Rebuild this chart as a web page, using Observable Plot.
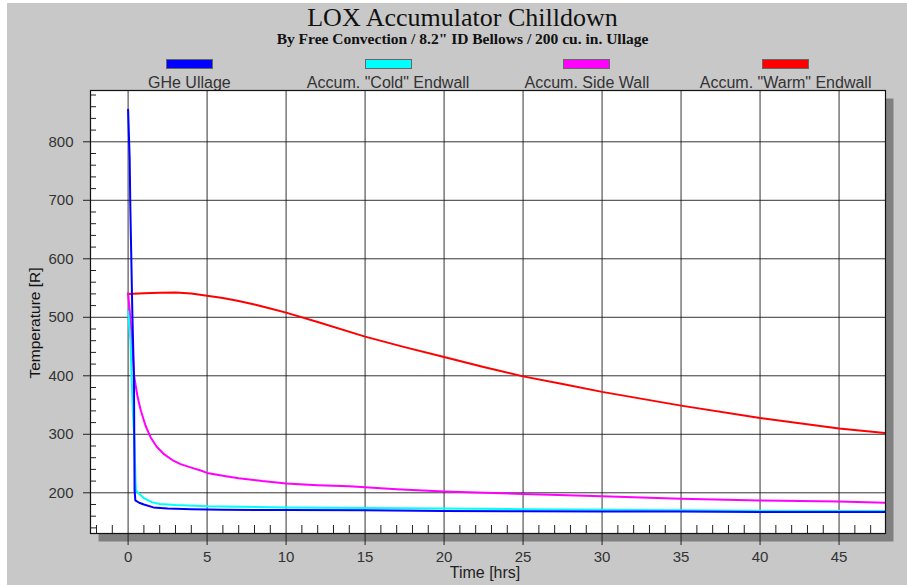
<!DOCTYPE html>
<html>
<head>
<meta charset="utf-8">
<script src="https://cdn.jsdelivr.net/npm/d3@7"></script>
<script src="https://cdn.jsdelivr.net/npm/@observablehq/plot@0.6"></script>
<style>
  body { margin: 0; background: #fff; }
  #wrap { position: relative; width: 907px; height: 585px; overflow: hidden; background: #fff; }
  #panel { position: absolute; left: 7px; top: 3px; width: 900px; height: 582px; background: #c8c8c8; }
  #title { position: absolute; left: 0; width: 925px; top: 3px; text-align: center;
           font-family: "Liberation Serif", "Times New Roman", serif; font-size: 26px; color: #111; }
  #subtitle { position: absolute; left: 0; width: 925px; top: 30px; text-align: center;
           font-family: "Liberation Serif", "Times New Roman", serif; font-size: 15.5px; font-weight: bold; color: #111; }
  #legend { position: absolute; left: 90px; top: 59px; width: 795px; display: flex; }
  .item { flex: 1; text-align: center; font-family: "Liberation Sans", Arial, sans-serif; font-size: 16px; color: #333; }
  .sw { width: 45px; height: 8px; margin: 0 auto; border: 1px solid #666; }
  .lab { margin-top: 5px; line-height: 18px; }
  #chart { position: absolute; left: 0; top: 0; }
  #ylab { position: absolute; left: 35px; top: 323px; transform: translate(-50%, -50%) rotate(-90deg);
          white-space: nowrap; font-family: "Liberation Sans", Arial, sans-serif; font-size: 15.5px; color: #111; }
</style>
</head>
<body>
<div id="wrap">
  <div id="panel"></div>
  <div id="title"></div>
  <div id="subtitle"></div>
  <div id="legend"></div>
  <div id="chart"></div>
  <div id="ylab"></div>
</div>
<script>
// ---- Text ----
const titleText = "LOX Accumulator Chilldown";
const subtitleText = "By Free Convection / 8.2\" ID Bellows / 200 cu. in. Ullage";
const xLabel = "Time [hrs]";
const yLabel = "Temperature [R]";

// ---- Series names & colours ----
const seriesNames = ["GHe Ullage", "Accum. \"Cold\" Endwall", "Accum. Side Wall", "Accum. \"Warm\" Endwall"];
const seriesColors = ["#0000ff", "#00ffff", "#ff00ff", "#ff0000"];

// ---- Data (time in hrs, temperature in R) ----
const gheTime = [0, 0.1, 0.14, 0.2, 0.27, 0.37, 0.41, 0.46, 0.7, 1.0, 1.6, 2.5, 4, 6, 10, 15, 20, 25, 30, 35, 40, 48];
const gheTemp = [855, 770, 690, 605, 505, 397, 204, 187, 183, 180, 175, 173, 172, 171, 170.5, 170, 169, 168.5, 168, 168, 167, 167];

const coldTime = [0, 0.15, 0.2, 0.3, 0.4, 0.47, 0.5, 0.7, 1.0, 1.5, 2, 3, 5, 10, 15, 20, 25, 30, 35, 40, 48];
const coldTemp = [510, 460, 415, 340, 289, 220, 204, 198, 191, 184, 181, 179, 177, 175, 174, 173, 172, 171, 170, 169.5, 169];

const sideTime = [0, 0.14, 0.39, 0.6, 0.8, 1.1, 1.42, 1.8, 2.27, 2.8, 3.32, 4, 4.6, 5, 6, 7, 8.5, 10, 12, 14, 17, 20, 25, 30, 35, 40, 45, 48];
const sideTemp = [541, 500, 398, 364, 341, 315, 295, 279, 266, 256, 249, 243, 238, 234, 229, 225, 220, 216, 213, 211, 206, 202, 198, 194, 190, 187, 185, 183];

const warmTime = [0, 1, 2, 3, 4, 5, 6, 7, 8, 9, 10, 12, 15, 17.5, 20, 22.5, 25, 27.5, 30, 35, 40, 45, 48];
const warmTemp = [540, 541, 542, 542.5, 540.5, 537, 533, 528, 522, 515, 508, 492, 467, 449, 432, 415, 399, 386, 372.5, 349, 328, 310, 302];

// ---- Ticks ----
const xMajor = [0, 5, 10, 15, 20, 25, 30, 35, 40, 45];
const xMinor = [-2, -1, 1, 2, 3, 4, 6, 7, 8, 9, 11, 12, 13, 14, 16, 17, 18, 19, 21, 22, 23, 24, 26, 27, 28, 29,
                31, 32, 33, 34, 36, 37, 38, 39, 41, 42, 43, 44, 46, 47];
const yMajor = [200, 300, 400, 500, 600, 700, 800];
const yMinor = [140, 160, 180, 220, 240, 260, 280, 320, 340, 360, 380, 420, 440, 460, 480, 520, 540, 560, 580,
                620, 640, 660, 680, 720, 740, 760, 780, 820, 840, 860, 880];
const xDomain = [-2.38, 47.94];
const yDomain = [130.4, 887.7];

// ---- Header & legend (HTML) ----
document.getElementById("title").textContent = titleText;
document.getElementById("subtitle").textContent = subtitleText;
document.getElementById("ylab").textContent = yLabel;
const legend = document.getElementById("legend");
seriesNames.forEach((name, i) => {
  const item = document.createElement("div");
  item.className = "item";
  const sw = document.createElement("div");
  sw.className = "sw";
  sw.style.background = seriesColors[i];
  const lab = document.createElement("div");
  lab.className = "lab";
  lab.textContent = name;
  item.appendChild(sw);
  item.appendChild(lab);
  legend.appendChild(item);
});

const toRows = (ts, vs, s) => ts.map((t, i) => ({t, v: vs[i], s}));
const series = [
  toRows(warmTime, warmTemp, 3),
  toRows(sideTime, sideTemp, 2),
  toRows(coldTime, coldTemp, 1),
  toRows(gheTime, gheTemp, 0)
];

const font = "Liberation Sans, Arial, sans-serif";
const chart = Plot.plot({
  width: 907,
  height: 585,
  marginTop: 90,
  marginLeft: 90,
  marginRight: 22,
  marginBottom: 52,
  style: { background: "transparent", color: "#222", fontFamily: font, overflow: "visible" },
  x: { domain: xDomain },
  y: { domain: yDomain },
  marks: [
    Plot.frame({ fill: "#808080", dx: 8, dy: 8 }),
    Plot.frame({ fill: "white" }),
    Plot.gridX(xMajor, { stroke: "#111", strokeOpacity: 0.85 }),
    Plot.gridY(yMajor, { stroke: "#111", strokeOpacity: 0.85 }),
    Plot.axisY(yMinor, { tickSize: 6, dx: 6, tickFormat: () => "", label: null, stroke: "#222" }),
    Plot.axisX(xMinor, { tickSize: 8, dy: -8, tickFormat: () => "", label: null, stroke: "#222" }),
    Plot.axisY(yMajor, { tickSize: 7, tickPadding: 10, fontSize: 15, label: null, color: "#333", stroke: "#222" }),
    Plot.axisX(xMajor, { tickSize: 12, tickPadding: 6, fontSize: 15, label: null, color: "#333", stroke: "#222" }),
    ...series.map(rows => Plot.line(rows, {
      x: "t", y: "v", stroke: seriesColors[rows[0].s], strokeWidth: 2, clip: true
    })),
    Plot.frame({ stroke: "#111", strokeWidth: 1.2 }),
    Plot.text([xLabel], { text: d => d, frameAnchor: "bottom", dx: -3, dy: 44, fontSize: 16, fill: "#222" })
  ]
});
document.getElementById("chart").appendChild(chart);
</script>
</body>
</html>
